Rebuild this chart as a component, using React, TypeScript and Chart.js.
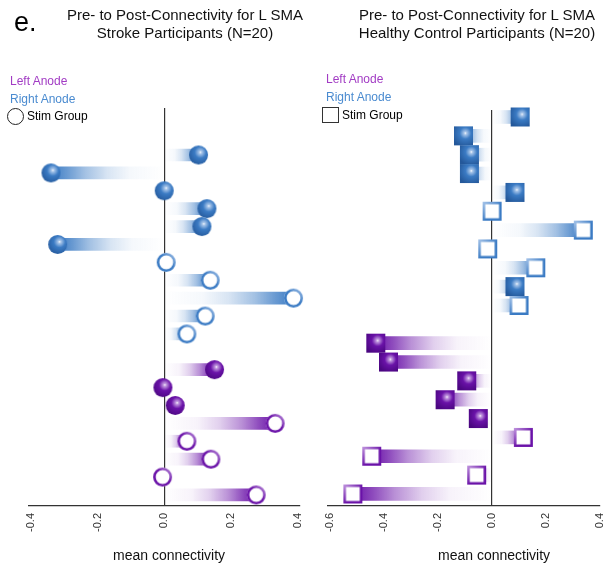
import React, { useEffect, useRef } from 'react';
import { Chart, registerables } from 'chart.js';
Chart.register(...registerables);

// ---------- DATA ----------
// Stroke participants (row order top -> bottom; null = empty row)
const strokeValues: (number | null)[] = [
  0.103, -0.34, 0.0, 0.128, 0.113, -0.32, 0.006, 0.138, 0.388, 0.123, 0.068,
  null,
  0.151, -0.004, 0.033, 0.333, 0.068, 0.14, -0.005, 0.276,
];
const strokeAnode: (string | null)[] = [
  'R', 'R', 'R', 'R', 'R', 'R', 'R', 'R', 'R', 'R', 'R',
  null,
  'L', 'L', 'L', 'L', 'L', 'L', 'L', 'L',
];
// true = hollow marker ("Stim Group")
const strokeStim: (boolean | null)[] = [
  false, false, false, false, false, false, true, true, true, true, true,
  null,
  false, false, false, true, true, true, true, true,
];

// Healthy control participants
const healthyValues: (number | null)[] = [
  0.104, -0.106, -0.084, -0.084, 0.085, 0.0, 0.338, -0.016, 0.162, 0.085, 0.1,
  null,
  -0.431, -0.384, -0.094, -0.174, -0.051, 0.116, -0.446, -0.057, -0.516,
];
const healthyAnode: (string | null)[] = [
  'R', 'R', 'R', 'R', 'R', 'R', 'R', 'R', 'R', 'R', 'R',
  null,
  'L', 'L', 'L', 'L', 'L', 'L', 'L', 'L', 'L',
];
const healthyStim: (boolean | null)[] = [
  false, false, false, false, false, true, true, true, true, false, true,
  null,
  false, false, false, false, false, true, true, true, true,
];

const strokeTicks = [-0.4, -0.2, 0, 0.2, 0.4];
const healthyTicks = [-0.6, -0.4, -0.2, 0, 0.2, 0.4];

// ---------- STYLE ----------
const COLORS: Record<string, { base: string; dark: string; light: string; rgb: number[] }> = {
  R: { base: '#3b7bc4', dark: '#24589a', light: '#a9c6ea', rgb: [59, 123, 196] },
  L: { base: '#6a12a8', dark: '#4a0680', light: '#c39ae0', rgb: [106, 18, 168] },
};
const FONT = '"Liberation Sans", Arial, Helvetica, sans-serif';

function makeMarker(shape: 'circle' | 'square', hollow: boolean, key: string, size: number) {
  const col = COLORS[key];
  const pad = 2;
  const dim = Math.ceil(size + pad * 2);
  const c = document.createElement('canvas');
  c.width = dim;
  c.height = dim;
  const g = c.getContext('2d')!;
  const cx = dim / 2;
  const cy = dim / 2;
  const r = size / 2;
  const path = (inset: number) => {
    g.beginPath();
    if (shape === 'circle') g.arc(cx, cy, r - inset, 0, Math.PI * 2);
    else g.rect(cx - r + inset, cy - r + inset, size - 2 * inset, size - 2 * inset);
  };
  if (!hollow) {
    const hx = cx + r * 0.2;
    const hy = cy - r * 0.28;
    const grad = g.createRadialGradient(hx, hy, 0, hx, hy, r * 1.45);
    grad.addColorStop(0, '#ffffff');
    grad.addColorStop(0.1, col.light);
    grad.addColorStop(0.42, col.base);
    grad.addColorStop(1, col.dark);
    path(0);
    g.fillStyle = grad;
    g.fill();
  } else {
    path(0);
    g.fillStyle = '#ffffff';
    g.fill();
    const lw = 2.6;
    const sg =
      shape === 'circle'
        ? g.createLinearGradient(cx - r, cy + r, cx + r, cy - r)
        : g.createLinearGradient(cx - r, cy - r, cx + r, cy + r);
    sg.addColorStop(0, shape === 'circle' ? col.base : col.light);
    sg.addColorStop(0.55, col.base);
    sg.addColorStop(1, shape === 'circle' ? col.light : col.base);
    path(lw / 2);
    g.lineWidth = lw;
    g.strokeStyle = sg;
    g.stroke();
  }
  return c;
}

type PanelProps = {
  left: number;
  width: number;
  padLeft: number;
  padRight: number;
  padTop: number;
  xMin: number;
  xMax: number;
  ticks: number[];
  yMin: number;
  yMax: number;
  values: (number | null)[];
  anode: (string | null)[];
  stim: (boolean | null)[];
  shape: 'circle' | 'square';
  markerSize: number;
  barThickness: number;
};

const HEIGHT = 568;
const AXIS_Y = 506;
const XSCALE_H = 30;

function Panel(p: PanelProps) {
  const ref = useRef<HTMLCanvasElement>(null);
  useEffect(() => {
    const canvas = ref.current;
    if (!canvas) return;
    const rows = p.values
      .map((v, i) => ({ v, i, a: p.anode[i], s: p.stim[i] }))
      .filter((r) => r.v !== null) as { v: number; i: number; a: string; s: boolean }[];

    const images = rows.map((r) => makeMarker(p.shape, r.s, r.a, p.markerSize));

    const barColor = (ctx: any) => {
      const r = rows[ctx.dataIndex];
      if (!r) return 'rgba(0,0,0,0)';
      const [R, G, B] = COLORS[r.a].rgb;
      const chart = ctx.chart;
      const xs = chart.scales.x;
      if (!chart.chartArea || !xs) return `rgba(${R},${G},${B},0.5)`;
      const x0 = xs.getPixelForValue(0);
      const x1 = xs.getPixelForValue(r.v);
      if (Math.abs(x1 - x0) < 1) return 'rgba(0,0,0,0)';
      const grad = chart.ctx.createLinearGradient(x0, 0, x1, 0);
      grad.addColorStop(0, `rgba(${R},${G},${B},0)`);
      grad.addColorStop(0.3, `rgba(${R},${G},${B},0.05)`);
      grad.addColorStop(0.5, `rgba(${R},${G},${B},0.2)`);
      grad.addColorStop(0.7, `rgba(${R},${G},${B},0.47)`);
      grad.addColorStop(0.85, `rgba(${R},${G},${B},0.75)`);
      grad.addColorStop(1, `rgba(${R},${G},${B},1)`);
      return grad;
    };

    const chart = new Chart(canvas, {
      type: 'bar',
      data: {
        datasets: [
          {
            type: 'scatter',
            data: rows.map((r) => ({ x: r.v, y: r.i })),
            pointStyle: images as any,
            pointRadius: p.markerSize / 2,
            clip: false as any,
            order: 0,
          } as any,
          {
            type: 'bar',
            indexAxis: 'y',
            data: rows.map((r) => ({ x: r.v, y: r.i })),
            backgroundColor: barColor,
            borderWidth: 0,
            barThickness: p.barThickness,
            clip: false as any,
            order: 1,
          } as any,
        ],
      },
      options: {
        animation: false,
        responsive: false,
        devicePixelRatio: 1,
        events: [],
        layout: {
          padding: {
            left: p.padLeft,
            right: p.padRight,
            top: p.padTop,
            bottom: HEIGHT - AXIS_Y - XSCALE_H,
          },
        },
        plugins: {
          legend: { display: false },
          tooltip: { enabled: false },
          title: { display: false },
        },
        scales: {
          x: {
            type: 'linear',
            position: 'bottom',
            min: p.xMin,
            max: p.xMax,
            offset: false,
            afterBuildTicks: (scale: any) => {
              scale.ticks = p.ticks.map((v) => ({ value: v }));
            },
            afterFit: (scale: any) => {
              scale.height = XSCALE_H;
              scale.paddingLeft = 0;
              scale.paddingRight = 0;
            },
            grid: {
              display: true,
              offset: false,
              drawTicks: false,
              lineWidth: 1.2,
              color: (ctx: any) =>
                ctx.tick && Math.abs(ctx.tick.value) < 1e-9 ? '#333333' : 'rgba(0,0,0,0)',
            },
            border: { display: true, color: '#333333', width: 1.2 },
            ticks: {
              autoSkip: false,
              minRotation: 90,
              maxRotation: 90,
              padding: 7,
              color: '#333333',
              font: { family: FONT, size: 11 },
              callback: (v: any) => Number(v).toFixed(1),
            },
          },
          y: {
            type: 'linear',
            display: false,
            reverse: true,
            min: p.yMin,
            max: p.yMax,
            offset: false,
            grid: { offset: false },
          },
        },
      } as any,
    });
    return () => chart.destroy();
  }, []);
  return (
    <canvas
      ref={ref}
      width={p.width}
      height={HEIGHT}
      style={{ position: 'absolute', left: p.left, top: 0, width: p.width, height: HEIGHT }}
    />
  );
}

const txt = (extra: React.CSSProperties): React.CSSProperties => ({
  position: 'absolute',
  fontFamily: FONT,
  whiteSpace: 'nowrap',
  ...extra,
});

export default function App() {
  return (
    <div
      style={{
        position: 'absolute',
        left: 0,
        top: 0,
        width: 611,
        height: 568,
        background: '#ffffff',
        overflow: 'hidden',
      }}
    >
      <Panel
        left={0}
        width={310}
        padLeft={29}
        padRight={7}
        padTop={108}
        xMin={-0.406}
        xMax={0.406}
        ticks={strokeTicks}
        yMin={-2.627}
        yMax={19.62}
        values={strokeValues}
        anode={strokeAnode}
        stim={strokeStim}
        shape="circle"
        markerSize={19}
        barThickness={12}
      />
      <Panel
        left={310}
        width={301}
        padLeft={18}
        padRight={11}
        padTop={110}
        xMin={-0.608}
        xMax={0.4}
        ticks={healthyTicks}
        yMin={-0.371}
        yMax={20.64}
        values={healthyValues}
        anode={healthyAnode}
        stim={healthyStim}
        shape="square"
        markerSize={19}
        barThickness={13}
      />

      <div style={txt({ left: 14, top: 6, fontSize: 27, lineHeight: '32px', color: '#000' })}>e.</div>

      <div
        style={txt({
          left: 35,
          top: 6,
          width: 300,
          textAlign: 'center',
          fontSize: 15,
          lineHeight: '18px',
          color: '#111',
        })}
      >
        Pre- to Post-Connectivity for L SMA
        <br />
        Stroke Participants (N=20)
      </div>
      <div
        style={txt({
          left: 327,
          top: 6,
          width: 300,
          textAlign: 'center',
          fontSize: 15,
          lineHeight: '18px',
          color: '#111',
        })}
      >
        Pre- to Post-Connectivity for L SMA
        <br />
        Healthy Control Participants (N=20)
      </div>

      {/* left legend */}
      <div style={txt({ left: 10, top: 74, fontSize: 12, lineHeight: '14px', color: '#a23cc4' })}>Left Anode</div>
      <div style={txt({ left: 10, top: 92, fontSize: 12, lineHeight: '14px', color: '#4a8bd0' })}>Right Anode</div>
      <div
        style={{
          position: 'absolute',
          left: 7,
          top: 108,
          width: 15,
          height: 15,
          border: '1.5px solid #222',
          borderRadius: '50%',
        }}
      />
      <div style={txt({ left: 27, top: 109, fontSize: 12, lineHeight: '14px', color: '#000' })}>Stim Group</div>

      {/* right legend */}
      <div style={txt({ left: 326, top: 72, fontSize: 12, lineHeight: '14px', color: '#a23cc4' })}>Left Anode</div>
      <div style={txt({ left: 326, top: 90, fontSize: 12, lineHeight: '14px', color: '#4a8bd0' })}>Right Anode</div>
      <div
        style={{
          position: 'absolute',
          left: 322,
          top: 107,
          width: 15,
          height: 14,
          border: '1.5px solid #333',
        }}
      />
      <div style={txt({ left: 342, top: 108, fontSize: 12, lineHeight: '14px', color: '#000' })}>Stim Group</div>

      {/* axis titles */}
      <div
        style={txt({ left: 69, top: 546, width: 200, textAlign: 'center', fontSize: 14, lineHeight: '18px', color: '#111' })}
      >
        mean connectivity
      </div>
      <div
        style={txt({ left: 394, top: 546, width: 200, textAlign: 'center', fontSize: 14, lineHeight: '18px', color: '#111' })}
      >
        mean connectivity
      </div>
    </div>
  );
}
